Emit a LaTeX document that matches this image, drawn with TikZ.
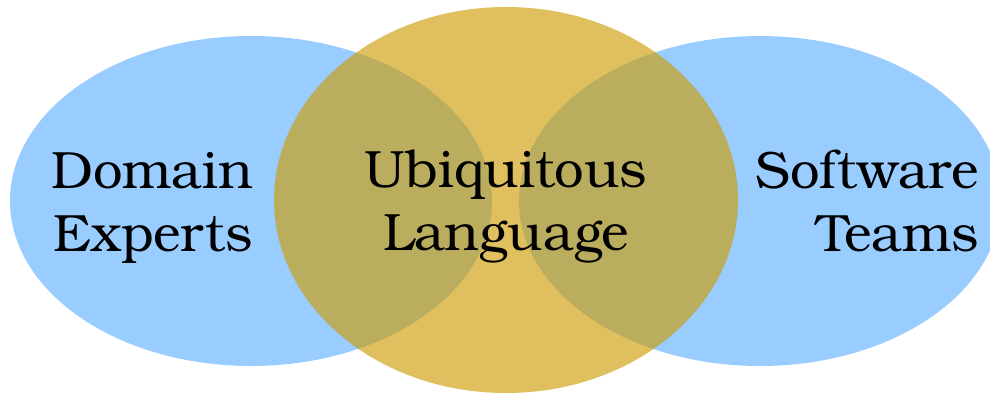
\documentclass[tikz,border=0pt]{standalone}
\usepackage{fontspec}
\setmainfont{TeX Gyre Bonum}
\usetikzlibrary{shapes.geometric}
\definecolor{groupblue}{RGB}{153,204,255}
\definecolor{langgold}{RGB}{206,155,0}
\begin{document}
\begin{tikzpicture}[x=1pt,y=-1pt,
  group/.style={ellipse,fill=groupblue,draw=none,inner sep=0pt},
  lang/.style={ellipse,fill=langgold,fill opacity=0.63,draw=none,inner sep=0pt},
  label/.style={font=\fontsize{52.5}{63}\selectfont,inner sep=0pt,text=black}]
  \useasboundingbox (0,0) rectangle (990,395);
  % the two groups of people
  \node[group,minimum width=482pt,minimum height=330pt] (domain) at (251,201) {};
  \node[group,minimum width=482pt,minimum height=330pt] (software) at (760,201) {};
  % the shared language laid over both
  \node[lang,minimum width=464pt,minimum height=386pt] (language) at (506,200) {};
  % labels
  \node[label,align=right,anchor=east] (domaintext) at (253,208) {Domain\\Experts};
  \node[label,align=center] (langtext) at (506,207) {Ubiquitous\\Language};
  \node[label,align=right,anchor=east] (softtext) at (979,201) {Software\\Teams};
\end{tikzpicture}
\end{document}
